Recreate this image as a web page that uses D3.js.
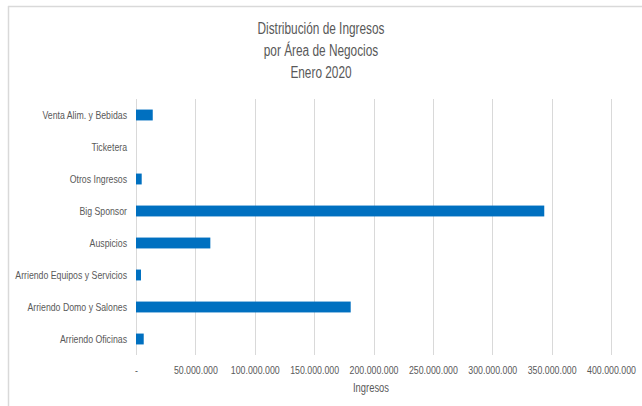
<!DOCTYPE html>
<html><head><meta charset="utf-8">
<script src="https://cdn.jsdelivr.net/npm/d3@7"></script>
<style>
html,body{margin:0;padding:0;background:#fff;}
svg{display:block;}
text{font-family:"Liberation Sans","DejaVu Sans",sans-serif;fill:#595959;}
</style></head>
<body><svg id="chart" width="642" height="406"></svg>
<script>
const categories = ["Venta Alim. y Bebidas","Ticketera","Otros Ingresos","Big Sponsor","Auspicios","Arriendo Equipos y Servicios","Arriendo Domo y Salones","Arriendo Oficinas"];
const values = [14100000,0,4800000,343800000,62600000,4200000,180800000,6500000];
const tickValues = [0,50000000,100000000,150000000,200000000,250000000,300000000,350000000,400000000];
const titleLines = ["Distribución de Ingresos","por Área de Negocios","Enero 2020"];
const xAxisTitle = "Ingresos";

const svg = d3.select("#chart");
const m = {left:136, right:611, top:99, bottom:355};

// condense text (Calibri-like narrow look) using a reference string width
function condense(sel, fontSize, refText, refWidth){
  const t = svg.append("text").attr("font-size",fontSize).text(refText);
  const k = refWidth / t.node().getComputedTextLength();
  t.remove();
  sel.each(function(){
    const w = this.getComputedTextLength();
    d3.select(this).attr("textLength", w*k).attr("lengthAdjust","spacingAndGlyphs");
  });
}

// chart border (top & left visible)
svg.append("line").attr("x1",8).attr("x2",642).attr("y1",6.5).attr("y2",6.5).attr("stroke","#d9d9d9").attr("stroke-width",1.5);
svg.append("line").attr("x1",8.5).attr("x2",8.5).attr("y1",6).attr("y2",406).attr("stroke","#d9d9d9").attr("stroke-width",1.5);

const x = d3.scaleLinear().domain([0,400000000]).range([m.left,m.right]);
const y = d3.scaleBand().domain(categories).range([m.top,m.bottom]).paddingInner(0.66).paddingOuter(0.33);

const fmt = v => v===0 ? "-" : d3.format(",")(v).replace(/,/g,".");

// gridlines
svg.append("g").selectAll("line").data(tickValues).join("line")
  .attr("x1",d=>Math.round(x(d))+0.5).attr("x2",d=>Math.round(x(d))+0.5)
  .attr("y1",m.top).attr("y2",m.bottom)
  .attr("stroke","#d9d9d9").attr("stroke-width",1);

// x axis labels
const xAxis = d3.axisBottom(x).tickValues(tickValues).tickFormat(fmt).tickSize(0).tickPadding(0);
const gx = svg.append("g").attr("transform",`translate(0,${m.bottom+19})`).call(xAxis);
gx.select(".domain").remove();
gx.selectAll("text").attr("font-size","11px").attr("fill","#595959").attr("dy","0").attr("font-family",null);
condense(gx.selectAll("text"), "11px", "50.000.000", 44);

// y axis labels
const yAxis = d3.axisLeft(y).tickSize(0).tickPadding(9);
const gy = svg.append("g").attr("transform",`translate(${m.left},0)`).call(yAxis);
gy.select(".domain").remove();
gy.selectAll("text").attr("font-size","11px").attr("fill","#595959").attr("font-family",null);
condense(gy.selectAll("text"), "11px", "Arriendo Equipos y Servicios", 111.7);

// bars
svg.append("g").selectAll("rect").data(categories).join("rect")
  .attr("x",x(0)).attr("y",d=>y(d))
  .attr("width",(d,i)=>x(values[i])-x(0))
  .attr("height",y.bandwidth())
  .attr("fill","#0070C0");

// title
const tt = svg.append("g").selectAll("text").data(titleLines).join("text")
  .attr("x",321).attr("y",(d,i)=>34+i*22).attr("text-anchor","middle")
  .attr("font-size","16px").text(d=>d);
condense(tt, "16px", "Distribución de Ingresos", 127);

const at = svg.append("text").attr("x",371).attr("y",392).attr("text-anchor","middle").attr("font-size","12px").text(xAxisTitle);
condense(at, "12px", "Ingresos", 36);
</script></body></html>
